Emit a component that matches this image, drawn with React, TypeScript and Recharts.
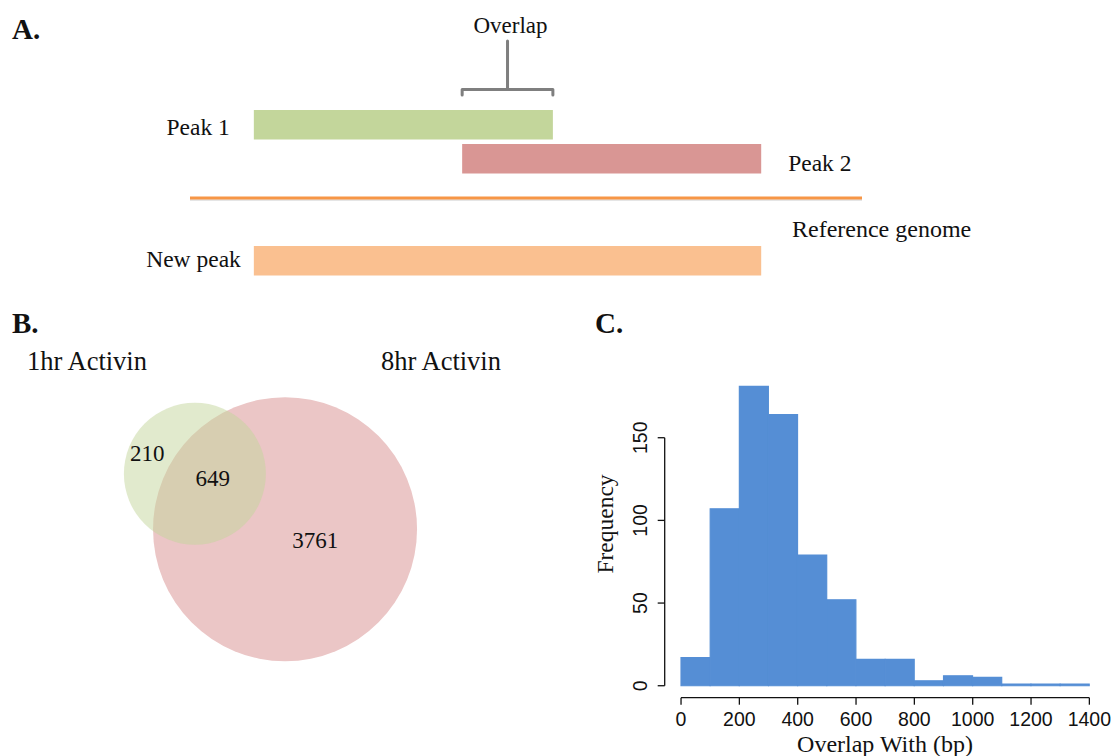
import React from 'react';
import { BarChart, Bar, XAxis, YAxis, ScatterChart, Scatter, ZAxis, ReferenceLine } from 'recharts';

// A: peaks along a stretch of reference genome (schematic units 0..1000)
const trackNames = ['Peak 1', 'Peak 2', 'New peak'];
const trackStart = [95, 405, 95];
const trackEnd = [540, 850, 850];
const genomeSpan = [0, 1000];

// B: venn of peaks, 1hr vs 8hr activin
const vennSets = ['1hr Activin', '8hr Activin'];
const vennOnly = [210, 3761];
const vennShared = 649;
const vennCenterX = [3.48, 5.09];
const vennCenterY = [5.04, 4.05];
const regionCounts = [210, 649, 3761];
const regionX = [2.63, 3.8, 5.63];
const regionY = [5.41, 4.96, 3.86];

// C: histogram of overlap widths
const binWidth = 100;
const binStarts = [0, 100, 200, 300, 400, 500, 600, 700, 800, 900, 1000, 1100, 1200, 1300];
const binCounts = [17, 107, 181, 164, 79, 52, 16, 16, 3, 6, 5, 1, 1, 1];
const xTicks = [0, 200, 400, 600, 800, 1000, 1200, 1400];
const yTicks = [0, 50, 100, 150];

const SERIF = "'Liberation Serif', 'Times New Roman', serif";
const SANS = "'Liberation Sans', Arial, sans-serif";
const INK = '#111';

const trackFills = ['#c3d69b', '#d99694', '#fac090'];
const trackLabelSide = ['left', 'right', 'left'];
const trackLabelGap = [24, 27, 13];
const trackLabelDy = [10.5, 12.5, 6.5];

const trackRows = [
  { row: 'overlap', kind: 'overlap', span: [trackStart[1], trackEnd[0]] },
  { row: trackNames[0], kind: 'peak', i: 0, span: [trackStart[0], trackEnd[0]] },
  { row: trackNames[1], kind: 'peak', i: 1, span: [trackStart[1], trackEnd[1]] },
  { row: 'genome', kind: 'genome', span: genomeSpan },
  { row: 'spacer', kind: 'spacer', span: [0, 0] },
  { row: trackNames[2], kind: 'peak', i: 2, span: [trackStart[2], trackEnd[2]] },
];

const TrackShape = (props: any) => {
  const { x, y, width, height } = props;
  const d = props.payload ?? props;
  if (!d || d.kind === 'spacer' || !isFinite(x) || !isFinite(width)) return <g />;
  const cy = y + height / 2;
  if (d.kind === 'overlap') {
    const mid = x + width / 2;
    const hy = cy - 1;
    return (
      <g>
        <path
          d={`M${x},${hy + 5.5} L${x},${hy} L${x + width},${hy} L${x + width},${hy + 5.5} M${mid},${hy} L${mid},${hy - 48.5}`}
          fill="none" stroke="#7f7f7f" strokeWidth={3} strokeLinejoin="round" strokeLinecap="round"
        />
        <text x={mid + 3} y={cy - 57.5} textAnchor="middle" fontFamily={SERIF} fontSize={23} fill={INK}>Overlap</text>
      </g>
    );
  }
  if (d.kind === 'genome') {
    return (
      <g>
        <rect x={x} y={cy + 6.5} width={width} height={2} fill="#000" fillOpacity={0.1} />
        <rect x={x} y={cy + 4} width={width} height={3} fill="#f79646" />
        <text x={x + width - 70} y={cy + 44.5} fontFamily={SERIF} fontSize={24} fill={INK}>Reference genome</text>
      </g>
    );
  }
  const i = d.i;
  const left = trackLabelSide[i] === 'left';
  return (
    <g>
      <rect x={x} y={cy - 14.5} width={width} height={29.5} fill={trackFills[i]} />
      <text
        x={left ? x - trackLabelGap[i] : x + width + trackLabelGap[i]}
        y={cy + trackLabelDy[i]}
        textAnchor={left ? 'end' : 'start'}
        fontFamily={SERIF} fontSize={23.5} fill={INK}
      >
        {trackNames[i]}
      </text>
    </g>
  );
};

const vennTotals = vennOnly.map(v => v + vennShared);
const vennData = vennSets.map((name, i) => ({ name, x: vennCenterX[i], y: vennCenterY[i], size: vennTotals[i] }));
const regionData = regionCounts.map((c, i) => ({ count: c, x: regionX[i], y: regionY[i] }));

const circleShape = (fill: string, opacity: number) => (props: any) => {
  const r = props.size ? Math.sqrt(props.size / Math.PI) : props.width / 2;
  return <circle cx={props.cx} cy={props.cy} r={r} fill={fill} fillOpacity={opacity} />;
};

const CountLabel = (props: any) => (
  <text x={props.cx} y={props.cy + 8} textAnchor="middle" fontFamily={SERIF} fontSize={23} fill={INK}>
    {(props.payload ?? props).count}
  </text>
);

const histData = binStarts.map((s, i) => ({ mid: s + binWidth / 2, count: binCounts[i] }));
const xMin = binStarts[0];
const xMax = binStarts[binStarts.length - 1] + binWidth;
const xPad = 0.04 * (xMax - xMin);
const yMax = Math.max(...binCounts);
const yPad = 0.04 * yMax;
const yAxisW = 40;
const xAxisH = 40;
const histMargin = { top: 74.5, right: 13.3, bottom: 58.3 - xAxisH, left: 84.7 - yAxisW };

const XTick = ({ x, y, payload }: any) => (
  <text x={x} y={y} dy="0.71em" textAnchor="middle" fontFamily={SANS} fontSize={19.5} fill={INK}>{payload.value}</text>
);
const YTick = ({ x, y, payload }: any) => (
  <text x={x} y={y} transform={`rotate(-90 ${x} ${y})`} textAnchor="middle" fontFamily={SANS} fontSize={19.5} fill={INK}>
    {payload.value}
  </text>
);

export default function App() {
  return (
    <div style={{ position: 'absolute', left: 0, top: 0, width: 1119, height: 756, background: '#fff', overflow: 'hidden' }}>
      <div style={{ position: 'absolute', left: 0, top: 0 }}>
        <BarChart
          layout="vertical" width={1119} height={290} data={trackRows}
          margin={{ top: 73.5, right: 257, bottom: 12.5, left: 190 }} barCategoryGap={0}
        >
          <XAxis type="number" domain={genomeSpan} hide />
          <YAxis type="category" dataKey="row" hide width={0} />
          <Bar dataKey="span" shape={TrackShape} isAnimationActive={false} />
        </BarChart>
      </div>

      <div style={{ position: 'absolute', left: 0, top: 300 }}>
        <ScatterChart width={560} height={456} margin={{ top: 0, right: 0, bottom: 0, left: 0 }}>
          <XAxis type="number" dataKey="x" domain={[0, 10]} hide height={0} />
          <YAxis type="number" dataKey="y" domain={[0, 456 / 56]} hide width={0} />
          <ZAxis type="number" dataKey="size" domain={[vennTotals[0], vennTotals[1]]} range={[Math.PI * 71 * 71, Math.PI * 132 * 132]} />
          <Scatter data={[vennData[1]]} shape={circleShape('#ebc6c6', 1)} isAnimationActive={false} />
          <Scatter data={[vennData[0]]} shape={circleShape('#c3d69b', 0.5)} isAnimationActive={false} />
          <Scatter data={regionData} shape={CountLabel} isAnimationActive={false} />
        </ScatterChart>
      </div>

      <div style={{ position: 'absolute', left: 580, top: 300 }}>
        <BarChart width={539} height={456} data={histData} margin={histMargin} barCategoryGap={0} barGap={0}>
          <XAxis
            type="number" dataKey="mid" domain={[xMin - xPad, xMax + xPad]} ticks={xTicks}
            axisLine={false} tickLine={{ stroke: INK, strokeWidth: 1.3 }} tickSize={7} tickMargin={7}
            tick={<XTick />} height={xAxisH} interval={0} allowDataOverflow
          />
          <YAxis
            type="number" domain={[-yPad, yMax + yPad]} ticks={yTicks}
            axisLine={false} tickLine={{ stroke: INK, strokeWidth: 1.3 }} tickSize={7} tickMargin={11}
            tick={<YTick />} width={yAxisW} interval={0} allowDataOverflow
          />
          <Bar dataKey="count" fill="#558ed5" stroke="#558ed5" strokeWidth={1.2} isAnimationActive={false} />
          <ReferenceLine segment={[{ x: xMin - xPad, y: yTicks[0] }, { x: xMin - xPad, y: yTicks[yTicks.length - 1] }]} stroke={INK} strokeWidth={1.3} ifOverflow="visible" />
          <ReferenceLine segment={[{ x: xTicks[0], y: -yPad }, { x: xTicks[xTicks.length - 1], y: -yPad }]} stroke={INK} strokeWidth={1.3} ifOverflow="visible" />
        </BarChart>
      </div>

      <svg width={1119} height={756} style={{ position: 'absolute', left: 0, top: 0, pointerEvents: 'none' }}>
        <text x={12} y={39} fontFamily={SERIF} fontWeight="bold" fontSize={29} fill={INK}>A.</text>
        <text x={12} y={333} fontFamily={SERIF} fontWeight="bold" fontSize={29} fill={INK}>B.</text>
        <text x={595} y={333} fontFamily={SERIF} fontWeight="bold" fontSize={29} fill={INK}>C.</text>
        <text x={27} y={370} fontFamily={SERIF} fontSize={26.5} fill={INK}>{vennSets[0]}</text>
        <text x={381} y={370} fontFamily={SERIF} fontSize={26.5} fill={INK}>{vennSets[1]}</text>
        <text x={613} y={524} transform="rotate(-90 613 524)" textAnchor="middle" fontFamily={SERIF} fontSize={23.5} fill={INK}>Frequency</text>
        <text x={885} y={752} textAnchor="middle" fontFamily={SERIF} fontSize={24} fill={INK}>Overlap With (bp)</text>
      </svg>
    </div>
  );
}
